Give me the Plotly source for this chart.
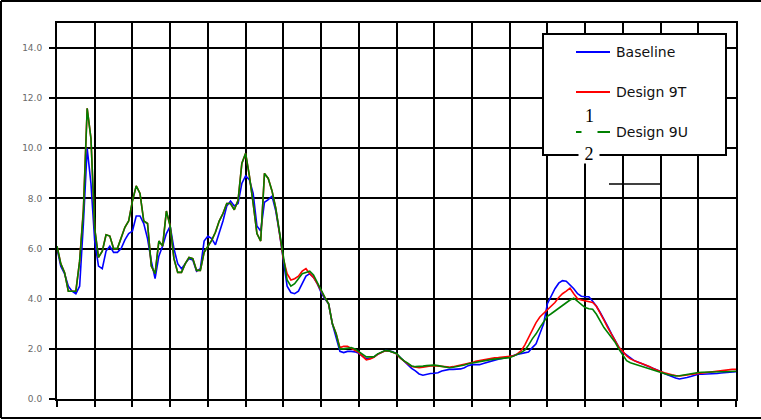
import plotly.graph_objects as go

# ---------------- data ----------------
SERIES_NAMES = ["Baseline", "Design 9T", "Design 9U"]
SERIES_COLORS = ["#0000ff", "#ff0000", "#008000"]

Y_TICK_VALUES = [0, 2, 4, 6, 8, 10, 12, 14]
Y_TICK_LABELS = ["0.0", "2.0", "4.0", "6.0", "8.0", "10.0", "12.0", "14.0"]
X_GRID_STEP = 10  # samples per vertical grid division (18 divisions)

BASELINE = [
    6.0, 5.3, 5.0, 4.5, 4.3, 4.2, 4.5, 7.0, 10.0, 8.6, 6.3,
    5.3, 5.2, 5.9, 6.1, 5.85, 5.85, 6.0, 6.35, 6.6, 6.7,
    7.3, 7.3, 7.0, 6.4, 5.5, 4.8, 5.7, 6.1, 6.6, 6.9,
    6.0, 5.4, 5.2, 5.4, 5.6, 5.55, 5.1, 5.2, 6.3, 6.5,
    6.4, 6.15, 6.6, 7.1, 7.7, 7.9, 7.7, 7.8, 8.6, 8.9,
    8.75, 8.2, 6.9, 6.7, 7.85, 7.95, 8.1, 7.5, 6.6, 5.5,
    4.5, 4.25, 4.2, 4.3, 4.6, 4.9, 5.0, 4.85, 4.6, 4.25,
    4.0, 3.8, 3.0, 2.5, 1.9, 1.85, 1.9, 1.9, 1.88, 1.82,
    1.72, 1.6, 1.62, 1.68, 1.78, 1.85, 1.93, 1.92, 1.88, 1.8,
    1.65, 1.5, 1.38, 1.22, 1.12, 1.0, 0.95, 1.0, 1.02, 1.03,
    1.05, 1.12, 1.15, 1.18, 1.18, 1.18, 1.2, 1.25, 1.33, 1.37,
    1.37, 1.37, 1.42, 1.47, 1.5, 1.55, 1.59, 1.62, 1.65, 1.7,
    1.73, 1.78, 1.82, 1.85, 1.87, 2.05, 2.2, 2.6, 3.0, 3.8,
    4.1, 4.4, 4.62, 4.72, 4.7, 4.55, 4.4, 4.2, 4.1, 4.08,
    4.08, 3.9, 3.7, 3.45, 3.2, 2.9, 2.6, 2.3, 2.05, 1.87,
    1.75, 1.63, 1.53, 1.48, 1.42, 1.37, 1.3, 1.24, 1.16, 1.1,
    1.02, 0.95, 0.89, 0.84, 0.8, 0.82, 0.86, 0.9, 0.96, 0.99,
    0.99, 0.99, 0.99, 1.0, 1.02, 1.04, 1.06, 1.07, 1.08, 1.09,
]

DESIGN_9T = [
    6.1, 5.4, 5.05, 4.3, 4.3, 4.3, 5.5, 7.6, 11.6, 10.4, 6.8,
    5.65, 5.9, 6.55, 6.5, 6.0, 6.0, 6.4, 6.85, 7.1, 7.9,
    8.5, 8.2, 7.1, 7.0, 5.3, 5.0, 6.3, 6.1, 7.5, 6.9,
    5.6, 5.05, 5.05, 5.4, 5.65, 5.6, 5.13, 5.13, 5.85, 6.1,
    6.33, 6.65, 7.1, 7.4, 7.8, 7.8, 7.55, 7.93, 9.4, 9.8,
    8.9, 7.8, 6.6, 6.3, 9.0, 8.8, 8.3, 7.6, 6.6, 5.6,
    5.0, 4.75, 4.8, 4.9, 5.1, 5.2, 5.0, 4.85, 4.6, 4.3,
    4.05, 3.8, 3.0, 2.6, 2.05, 2.1, 2.1, 2.02, 1.95, 1.85,
    1.7, 1.56, 1.6, 1.66, 1.78, 1.86, 1.92, 1.92, 1.87, 1.8,
    1.63, 1.5, 1.4, 1.3, 1.26, 1.25, 1.27, 1.3, 1.32, 1.33,
    1.32, 1.3, 1.28, 1.27, 1.29, 1.32, 1.35, 1.38, 1.42, 1.45,
    1.5, 1.53, 1.56, 1.6, 1.62, 1.64, 1.65, 1.66, 1.67, 1.68,
    1.72, 1.8, 1.92, 2.15, 2.45, 2.8, 3.05, 3.27, 3.42, 3.55,
    3.7, 3.85, 4.05, 4.2, 4.3, 4.42, 4.2, 4.0, 3.95, 3.92,
    3.9, 3.85, 3.7, 3.45, 3.15, 2.85, 2.6, 2.35, 2.05, 1.9,
    1.72, 1.6, 1.52, 1.47, 1.42, 1.37, 1.3, 1.22, 1.15, 1.1,
    1.05, 1.0, 0.97, 0.94, 0.92, 0.94, 0.97, 0.99, 1.0, 1.02,
    1.04, 1.06, 1.08, 1.1, 1.12, 1.14, 1.16, 1.18, 1.18, 1.18,
]

DESIGN_9U = [
    6.1, 5.4, 5.05, 4.3, 4.3, 4.3, 5.5, 7.5, 11.6, 10.4, 6.8,
    5.65, 5.9, 6.55, 6.5, 6.0, 6.0, 6.4, 6.85, 7.1, 7.9,
    8.5, 8.2, 7.1, 7.0, 5.3, 5.0, 6.3, 6.1, 7.5, 6.9,
    5.6, 5.05, 5.05, 5.4, 5.65, 5.6, 5.13, 5.13, 5.85, 6.1,
    6.33, 6.65, 7.1, 7.4, 7.8, 7.8, 7.55, 7.93, 9.4, 9.8,
    8.9, 7.8, 6.6, 6.3, 9.0, 8.8, 8.3, 7.6, 6.6, 5.6,
    4.75, 4.5, 4.6, 4.8, 5.0, 5.05, 5.1, 4.95, 4.65, 4.3,
    4.05, 3.8, 3.0, 2.6, 2.0, 2.0, 2.03, 2.05, 2.0, 1.9,
    1.78, 1.68, 1.68, 1.68, 1.8, 1.87, 1.93, 1.92, 1.88, 1.82,
    1.65, 1.52, 1.43, 1.32, 1.29, 1.29, 1.31, 1.33, 1.35, 1.35,
    1.33, 1.3, 1.27, 1.25, 1.27, 1.29, 1.31, 1.36, 1.41, 1.44,
    1.47, 1.49, 1.52, 1.55, 1.57, 1.59, 1.61, 1.63, 1.64, 1.65,
    1.71, 1.77, 1.85, 1.95, 2.15, 2.4, 2.6, 2.85, 3.1, 3.3,
    3.4, 3.5, 3.62, 3.73, 3.84, 3.95, 4.02, 3.9, 3.75, 3.65,
    3.6, 3.58, 3.38, 3.1, 2.85, 2.65, 2.45, 2.25, 1.98, 1.75,
    1.53, 1.45, 1.4, 1.35, 1.3, 1.25, 1.21, 1.15, 1.1, 1.06,
    1.01, 0.97, 0.95, 0.92, 0.93, 0.96, 0.99, 1.02, 1.04, 1.06,
    1.07, 1.08, 1.09, 1.09, 1.09, 1.09, 1.09, 1.1, 1.1, 1.11,
]

SERIES = [BASELINE, DESIGN_9T, DESIGN_9U]

# ---------------- figure ----------------
W, H = 761, 420
L, R, T, B = 57, 25, 23, 21
PW, PH = W - L - R, H - T - B


def px(x):  # pixel -> paper x
    return (x - L) / PW


def py(y):  # pixel -> paper y
    return (H - B - y) / PH


n = len(BASELINE)
xs = list(range(n))

fig = go.Figure()
for name, vals, color in zip(SERIES_NAMES, SERIES, SERIES_COLORS):
    fig.add_trace(go.Scatter(x=xs, y=vals, mode="lines", name=name,
                             line=dict(color=color, width=1.6),
                             showlegend=False, hoverinfo="skip"))

axis_common = dict(showgrid=True, gridcolor="#000000", gridwidth=2,
                   ticks="outside", ticklen=6, tickwidth=2, tickcolor="#000000",
                   showline=True, linecolor="#000000", linewidth=2, mirror=True,
                   zeroline=False, fixedrange=True)

fig.update_xaxes(range=[0, n - 1], tickmode="linear", tick0=0, dtick=X_GRID_STEP,
                 showticklabels=False, **axis_common)
fig.update_yaxes(range=[0, 15], tickmode="array", tickvals=Y_TICK_VALUES,
                 ticktext=Y_TICK_LABELS, ticklabelstandoff=5,
                 tickfont=dict(family="DejaVu Sans", size=9, color="#6a6a6a"),
                 **axis_common)

shapes = []
# outer frame of the picture (left, top, bottom)
shapes.append(dict(type="line", xref="paper", yref="paper", x0=px(1), x1=px(1),
                   y0=py(1), y1=py(418), line=dict(color="#000", width=2)))
shapes.append(dict(type="line", xref="paper", yref="paper", x0=px(1), x1=px(761),
                   y0=py(1), y1=py(1), line=dict(color="#000", width=2)))
shapes.append(dict(type="line", xref="paper", yref="paper", x0=px(1), x1=px(761),
                   y0=py(418), y1=py(418), line=dict(color="#000", width=2)))
# legend box
shapes.append(dict(type="rect", xref="paper", yref="paper", x0=px(543), x1=px(726),
                   y0=py(155), y1=py(34), fillcolor="#ffffff",
                   line=dict(color="#000", width=2), layer="above"))
annotations = []
for i, (name, color) in enumerate(zip(SERIES_NAMES, SERIES_COLORS)):
    yrow = 52 + 40 * i
    shapes.append(dict(type="line", xref="paper", yref="paper", x0=px(576), x1=px(610),
                       y0=py(yrow), y1=py(yrow), line=dict(color=color, width=2),
                       layer="above"))
    annotations.append(dict(xref="paper", yref="paper", x=px(614), y=py(yrow),
                            xanchor="left", yanchor="middle", text=name, showarrow=False,
                            font=dict(family="DejaVu Sans", size=14, color="#111111")))
# stray line below legend
shapes.append(dict(type="line", xref="paper", yref="paper", x0=px(609), x1=px(662),
                   y0=py(184), y1=py(184), line=dict(color="#000", width=1.5),
                   layer="above"))

# stray serif labels with white boxes
annotations.append(dict(xref="paper", yref="paper", x=px(589.5), y=py(119.5),
                        xanchor="center", yanchor="middle", text="1", showarrow=False,
                        width=15, height=28, valign="top", bgcolor="#ffffff",
                        borderpad=0,
                        font=dict(family="Liberation Serif", size=18, color="#000")))
annotations.append(dict(xref="paper", yref="paper", x=px(589), y=py(154),
                        xanchor="center", yanchor="middle", text="2", showarrow=False,
                        width=20, height=18, bgcolor="#ffffff", borderpad=0,
                        font=dict(family="Liberation Serif", size=18, color="#000")))

fig.update_layout(width=W, height=H,
                  margin=dict(l=L, r=R, t=T, b=B, pad=0),
                  paper_bgcolor="#ffffff", plot_bgcolor="#ffffff",
                  showlegend=False, shapes=shapes, annotations=annotations)

fig.write_html("out.html",
               config={"displayModeBar": False, "staticPlot": True},
               post_script="document.body.style.margin='0';"
                           "document.body.style.padding='0';"
                           "document.body.style.overflow='hidden';")
